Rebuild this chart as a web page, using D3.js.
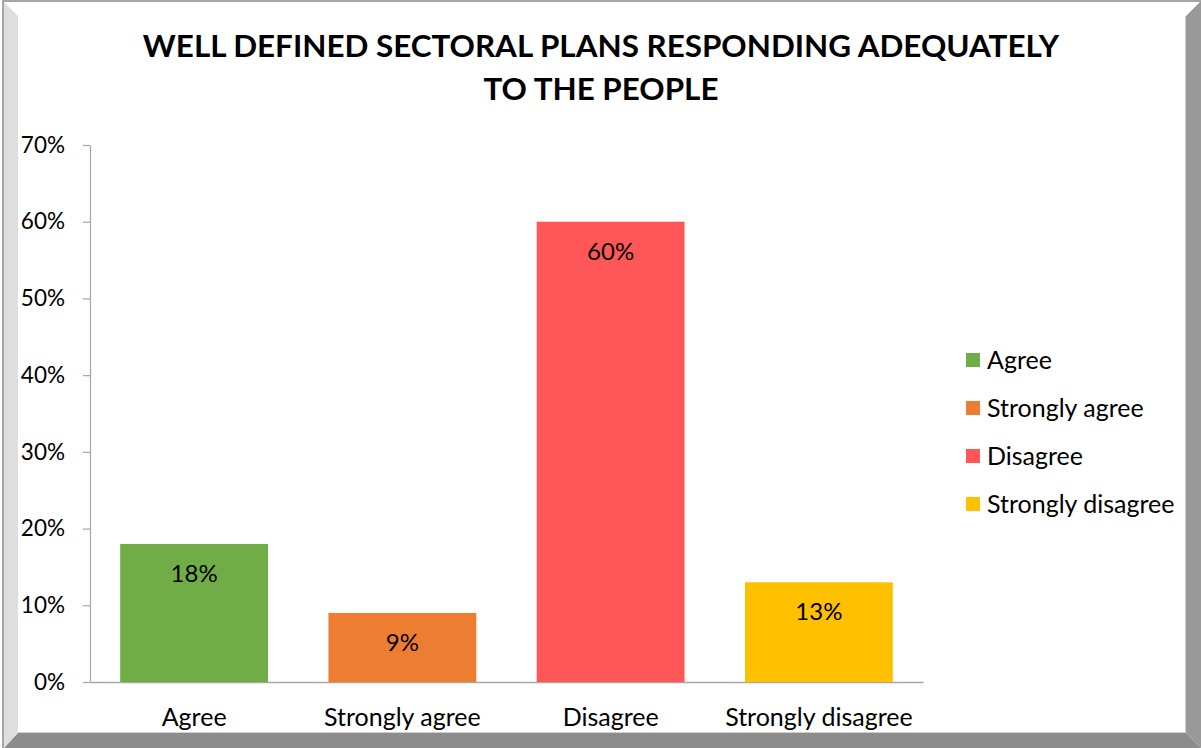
<!DOCTYPE html>
<html>
<head>
<meta charset="utf-8">
<script src="https://cdn.jsdelivr.net/npm/d3@7"></script>
<style>
  html, body { margin: 0; padding: 0; background: #ffffff; }
  svg { display: block; }
  text { font-family: Lato, "Open Sans", sans-serif; fill: #000; }
</style>
</head>
<body>
<svg id="chart" width="1201" height="748"></svg>
<script>
// Survey responses
const categories = ["Agree", "Strongly agree", "Disagree", "Strongly disagree"];
const values = [0.18, 0.09, 0.60, 0.13];
const colors = ["#70ad47", "#ed7d31", "#ff5757", "#ffc000"];
const yTicks = [0, 0.1, 0.2, 0.3, 0.4, 0.5, 0.6, 0.7];
const titleLines = ["WELL DEFINED SECTORAL PLANS RESPONDING ADEQUATELY", "TO THE PEOPLE"];

const W = 1201, H = 748;
const svg = d3.select("#chart");

// Bevelled frame around the chart area
const frame = svg.append("g");
frame.append("rect").attr("x", 0).attr("y", 0).attr("width", W).attr("height", H).attr("fill", "#ffffff");
frame.append("rect").attr("x", 2).attr("y", 0).attr("width", W - 2).attr("height", 2).attr("fill", "#a6a6a6");
frame.append("rect").attr("x", 2).attr("y", 0).attr("width", 2).attr("height", H).attr("fill", "#a6a6a6");
// left light bevel
frame.append("polygon").attr("points", `4,2 18,16 18,733 4,747`).attr("fill", "#dedede");
// right dark bevel
frame.append("polygon").attr("points", `1186,16 1201,1 1201,748 1186,733`).attr("fill", "#999999");
frame.append("line").attr("x1", 1185.5).attr("x2", 1185.5).attr("y1", 16).attr("y2", 733).attr("stroke", "#d0d0d0");
// bottom dark bevel
frame.append("polygon").attr("points", `18,733 1186,733 1201,748 4,748`).attr("fill", "#8c8c8c");
frame.append("line").attr("x1", 18).attr("x2", 1186).attr("y1", 732.5).attr("y2", 732.5).attr("stroke", "#d0d0d0");

// Plot area
const x0 = 90, x1 = 923, yTop = 145, yBottom = 682;

const x = d3.scaleBand().domain(categories).range([x0, x1]).paddingInner(0.29).paddingOuter(0.145);
const y = d3.scaleLinear().domain([0, 0.7]).range([yBottom, yTop]);

// Title
const title = svg.append("text")
  .attr("text-anchor", "middle")
  .style("font-weight", "bold")
  .style("font-size", "31.4px");
title.selectAll("tspan").data(titleLines).join("tspan")
  .attr("x", 601)
  .attr("y", (d, i) => i === 0 ? 57 : 100)
  .text(d => d);

// Y axis
const yAxis = d3.axisLeft(y)
  .tickValues(yTicks)
  .tickFormat(d3.format(".0%"))
  .tickSize(7)
  .tickSizeOuter(0)
  .tickPadding(18);
const gy = svg.append("g").attr("transform", `translate(${x0},0)`).call(yAxis);
gy.select(".domain").attr("stroke", "#a6a6a6").attr("stroke-width", 1.2);
gy.selectAll(".tick line").attr("stroke", "#a6a6a6").attr("stroke-width", 1.2);
gy.selectAll(".tick text").style("font-family", "Lato, sans-serif").style("font-size", "22.5px").attr("fill", "#000");

// X axis
const xAxis = d3.axisBottom(x).tickSize(0).tickSizeOuter(0).tickPadding(26);
const gx = svg.append("g").attr("transform", `translate(0,${yBottom})`).call(xAxis);
gx.select(".domain").attr("stroke", "#a6a6a6").attr("stroke-width", 1.5);
gx.selectAll(".tick text").style("font-family", "Lato, sans-serif").style("font-size", "25px").attr("fill", "#000");

// Bars
svg.append("g").selectAll("rect").data(values).join("rect")
  .attr("x", (d, i) => x(categories[i]))
  .attr("y", d => y(d))
  .attr("width", x.bandwidth())
  .attr("height", d => yBottom - y(d))
  .attr("fill", (d, i) => colors[i]);

// Value labels inside the bars
svg.append("g").selectAll("text").data(values).join("text")
  .attr("x", (d, i) => x(categories[i]) + x.bandwidth() / 2)
  .attr("y", d => y(d) + 38)
  .attr("text-anchor", "middle")
  .style("font-size", "24px")
  .text(d => d3.format(".0%")(d));

// Legend
const legend = svg.append("g").selectAll("g").data(categories).join("g")
  .attr("transform", (d, i) => `translate(966,${360 + i * 48})`);
legend.append("rect")
  .attr("x", 0).attr("y", -7).attr("width", 14).attr("height", 14)
  .attr("fill", (d, i) => colors[i]);
legend.append("text")
  .attr("x", 21).attr("y", 8.5)
  .style("font-size", "25px")
  .text(d => d);
</script>
</body>
</html>
